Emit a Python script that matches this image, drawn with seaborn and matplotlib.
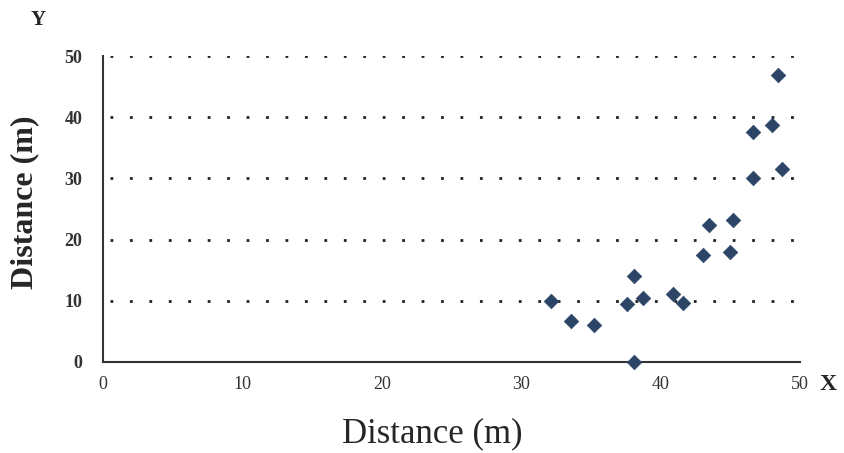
import matplotlib
matplotlib.use("Agg")
import matplotlib.pyplot as plt
import seaborn as sns
import pandas as pd

# values
x_vals = [32.1, 33.6, 35.2, 37.6, 38.1, 38.7, 38.1, 40.9, 41.6, 43.0,
          43.5, 45.0, 45.2, 46.6, 46.6, 48.0, 48.7, 48.4]
y_vals = [10.0, 6.7, 6.0, 9.5, 14.0, 10.5, 0.0, 11.1, 9.6, 17.5,
          22.4, 18.0, 23.2, 30.1, 37.6, 38.7, 31.5, 46.9]
x_ticks = [0, 10, 20, 30, 40, 50]
y_ticks = [0, 10, 20, 30, 40, 50]

df = pd.DataFrame({"x": x_vals, "y": y_vals})

sns.set_style("white")
plt.rcParams["font.family"] = ["Liberation Serif", "DejaVu Serif"]

fig = plt.figure(figsize=(8.44, 4.53), dpi=100)
ax = fig.add_axes([0.122, 0.201, 0.826, 0.675])

for yv in y_ticks[1:]:
    ax.axhline(yv, xmin=0.01, color="#222222", linestyle=(0, (1, 6)), linewidth=2, zorder=1)

sns.scatterplot(data=df, x="x", y="y", marker="D", s=55, color="#2c4567",
                edgecolor="#2c4567", linewidth=0.5, ax=ax, zorder=3, clip_on=False)

ax.set_xlim(0, 50)
ax.set_ylim(0, 50)
ax.set_xticks(x_ticks)
ax.set_yticks(y_ticks)
ax.set_xticklabels([str(t) for t in x_ticks], fontsize=13, color="#333333")
ax.set_yticklabels([str(t) for t in y_ticks], fontsize=13, color="#333333",
                   fontweight="bold")

for side in ["top", "right"]:
    ax.spines[side].set_visible(False)
for side in ["left", "bottom"]:
    ax.spines[side].set_color("#333333")
    ax.spines[side].set_linewidth(1.5)

ax.tick_params(axis="y", direction="out", length=9, width=1.5, color="#333333", pad=6)
ax.tick_params(axis="x", direction="inout", length=8, width=1.5, color="#333333", pad=6)

ax.set_xlabel("Distance (m)", fontsize=25)
ax.xaxis.set_label_coords(0.473, -0.18)
ax.set_ylabel("Distance (m)", fontsize=23, fontweight="bold")
ax.yaxis.set_label_coords(-0.092, 0.523)

fig.text(0.045, 0.955, "Y", fontsize=15, fontweight="bold", ha="center", va="center")
fig.text(0.981, 0.152, "X", fontsize=17, fontweight="bold", ha="center", va="center")

fig.savefig("out.png", dpi=100)
